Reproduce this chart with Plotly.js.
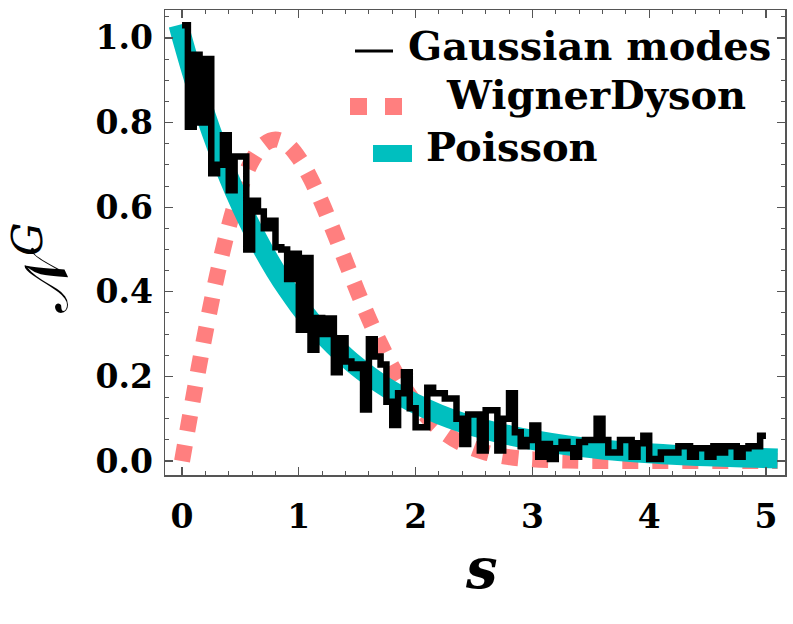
<!DOCTYPE html>
<html>
<head>
<meta charset="utf-8">
<script src="https://cdn.plot.ly/plotly-3.0.1.min.js"></script>
<style>html,body{margin:0;padding:0;background:#fff;}</style>
</head>
<body>
<div id="chart" style="width:793px;height:624px;"></div>
<script>
// Histogram of Gaussian modes: bins of width 0.05 starting at s = 0
const binStart = 0;
const binWidth = 0.05;
const gaussianModes = [
  1.03, 0.79, 0.96, 0.80, 0.95, 0.68, 0.70, 0.77, 0.64, 0.72,
  0.72, 0.50, 0.615, 0.59, 0.55, 0.568, 0.505, 0.50, 0.43, 0.49,
  0.31, 0.48, 0.263, 0.338, 0.30, 0.337, 0.21, 0.29, 0.235, 0.22,
  0.228, 0.122, 0.288, 0.247, 0.228, 0.14, 0.085, 0.16, 0.21, 0.125,
  0.08, 0.08, 0.173, 0.16, 0.16, 0.148, 0.148, 0.10, 0.04, 0.11,
  0.11, 0.025, 0.12, 0.12, 0.025, 0.10, 0.16, 0.068, 0.035, 0.05,
  0.084, 0.01, 0.04, 0.005, 0.03, 0.045, 0.03, 0.01, 0.045, 0.05,
  0.05, 0.10, 0.05, 0.02, 0.02, 0.05, 0.05, 0.01, 0.042, 0.06,
  0.005, 0.005, 0.02, 0.02, 0.02, 0.035, 0.035, 0.01, 0.03, 0.03,
  0.01, 0.035, 0.02, 0.035, 0.035, 0.01, 0.03, 0.035, 0.035, 0.06
];

// Reference curves sampled along s
const curveS = [-0.03, 0, 0.1, 0.2, 0.3, 0.4, 0.5, 0.6, 0.7, 0.8, 0.9, 1.0, 1.1, 1.2, 1.3, 1.4, 1.5,
  1.6, 1.7, 1.8, 1.9, 2.0, 2.2, 2.4, 2.6, 2.8, 3.0, 3.3, 3.6, 3.9, 4.2, 4.5, 4.8, 5.1];
const poisson = [1.0305, 1.0, 0.9048, 0.8187, 0.7408, 0.6703, 0.6065, 0.5488, 0.4966, 0.4493, 0.4066,
  0.3679, 0.3329, 0.3012, 0.2725, 0.2466, 0.2231, 0.2019, 0.1827, 0.1653, 0.1496, 0.1353,
  0.1108, 0.0907, 0.0743, 0.0608, 0.0498, 0.0369, 0.0273, 0.0202, 0.0150, 0.0111, 0.0082, 0.0061];
const wignerDyson = [null, 0, 0.1559, 0.3044, 0.4391, 0.5541, 0.6454, 0.7104, 0.7483, 0.7602, 0.7483,
  0.7162, 0.6680, 0.6083, 0.5415, 0.4717, 0.4025, 0.3365, 0.2759, 0.2220, 0.1752, 0.1358,
  0.0772, 0.0409, 0.0202, 0.0093, 0.0040, 0.0010, 0.0002, 0, 0, 0, 0, 0];

const legendNames = ['Gaussian modes', 'WignerDyson', 'Poisson'];
const xTickVals = [0, 1, 2, 3, 4, 5];
const yTickVals = [0, 0.2, 0.4, 0.6, 0.8, 1.0];
const xTitle = '<i>s</i>';
const yTitle = '𝒩<sup><i>G</i></sup>';

// Build step outline of the histogram
const histX = [], histY = [];
gaussianModes.forEach(function (v, i) {
  histX.push(binStart + i * binWidth);
  histY.push(v);
});
histX.push(binStart + gaussianModes.length * binWidth);
histY.push(gaussianModes[gaussianModes.length - 1]);

const cPink = '#FF7F7F', cTeal = '#00BFBF', cBlack = '#000000';
const serif = 'DejaVu Serif';

const traces = [
  {x: curveS, y: wignerDyson, mode: 'lines', name: legendNames[1], showlegend: false, connectgaps: false,
   line: {color: cPink, width: 16, dash: '16px,14px', shape: 'spline', smoothing: 1}},
  {x: curveS, y: poisson, mode: 'lines', name: legendNames[2], showlegend: false,
   line: {color: cTeal, width: 20, shape: 'spline', smoothing: 1}},
  {x: histX, y: histY, mode: 'lines', name: legendNames[0], showlegend: false,
   line: {color: cBlack, width: 6.5, shape: 'hv', simplify: false}}
];

const px = function (p) { return (p - 165) / 620; };
const py = function (p) { return (475 - p) / 465; };

const frameColor = '#555555';
const layout = {
  width: 793, height: 624,
  margin: {l: 165, r: 8, t: 10, b: 149},
  paper_bgcolor: '#ffffff', plot_bgcolor: '#ffffff',
  showlegend: false,
  xaxis: {
    range: [-0.146, 5.163], tickvals: xTickVals, ticktext: xTickVals.map(String),
    ticks: 'inside', ticklen: 8, tickwidth: 1.2, tickcolor: frameColor,
    minor: {dtick: 0.2, tick0: 0, ticks: 'inside', ticklen: 4, tickwidth: 1, tickcolor: frameColor},
    showline: true, linecolor: frameColor, linewidth: 1.5, mirror: 'allticks',
    showgrid: false, zeroline: false,
    tickfont: {family: serif, size: 33, color: '#000', weight: 'bold'},
    ticklabelstandoff: 12
  },
  yaxis: {
    range: [-0.033, 1.066], tickvals: yTickVals, ticktext: yTickVals.map(function (v) { return v.toFixed(1); }),
    ticks: 'inside', ticklen: 8, tickwidth: 1.2, tickcolor: frameColor,
    minor: {dtick: 0.05, tick0: 0, ticks: 'inside', ticklen: 4, tickwidth: 1, tickcolor: frameColor},
    showline: true, linecolor: frameColor, linewidth: 1.5, mirror: 'allticks',
    showgrid: false, zeroline: false,
    tickfont: {family: serif, size: 33, color: '#000', weight: 'bold'},
    ticklabelstandoff: 4
  },
  shapes: [
    {type: 'line', xref: 'paper', yref: 'paper', x0: px(355), x1: px(393), y0: py(51), y1: py(51),
     line: {color: cBlack, width: 3}},
    {type: 'rect', xref: 'paper', yref: 'paper', x0: px(350), x1: px(367), y0: py(115), y1: py(98),
     fillcolor: cPink, line: {width: 0}},
    {type: 'rect', xref: 'paper', yref: 'paper', x0: px(385), x1: px(402), y0: py(115), y1: py(98),
     fillcolor: cPink, line: {width: 0}},
    {type: 'rect', xref: 'paper', yref: 'paper', x0: px(373), x1: px(412), y0: py(162), y1: py(145),
     fillcolor: cTeal, line: {width: 0}}
  ],
  annotations: [
    {xref: 'paper', yref: 'paper', x: px(406), y: py(45), xanchor: 'left', yanchor: 'middle', showarrow: false,
     text: legendNames[0], font: {family: serif, size: 40, color: '#000', weight: 'bold'}},
    {xref: 'paper', yref: 'paper', x: px(444), y: py(95), xanchor: 'left', yanchor: 'middle', showarrow: false,
     text: legendNames[1], font: {family: serif, size: 40, color: '#000', weight: 'bold'}},
    {xref: 'paper', yref: 'paper', x: px(424), y: py(146), xanchor: 'left', yanchor: 'middle', showarrow: false,
     text: legendNames[2], font: {family: serif, size: 40, color: '#000', weight: 'bold'}},
    {xref: 'paper', yref: 'paper', x: px(481), y: py(568), xanchor: 'center', yanchor: 'middle', showarrow: false,
     text: xTitle, font: {family: serif, size: 56, color: '#000', weight: 'bold'}},
    {xref: 'paper', yref: 'paper', x: px(42), y: py(268), xanchor: 'center', yanchor: 'middle', showarrow: false,
     textangle: -90, text: yTitle, font: {family: serif, size: 60, color: '#000'}}
  ]
};

Plotly.newPlot('chart', traces, layout, {displayModeBar: false, staticPlot: true});
</script>
</body>
</html>
